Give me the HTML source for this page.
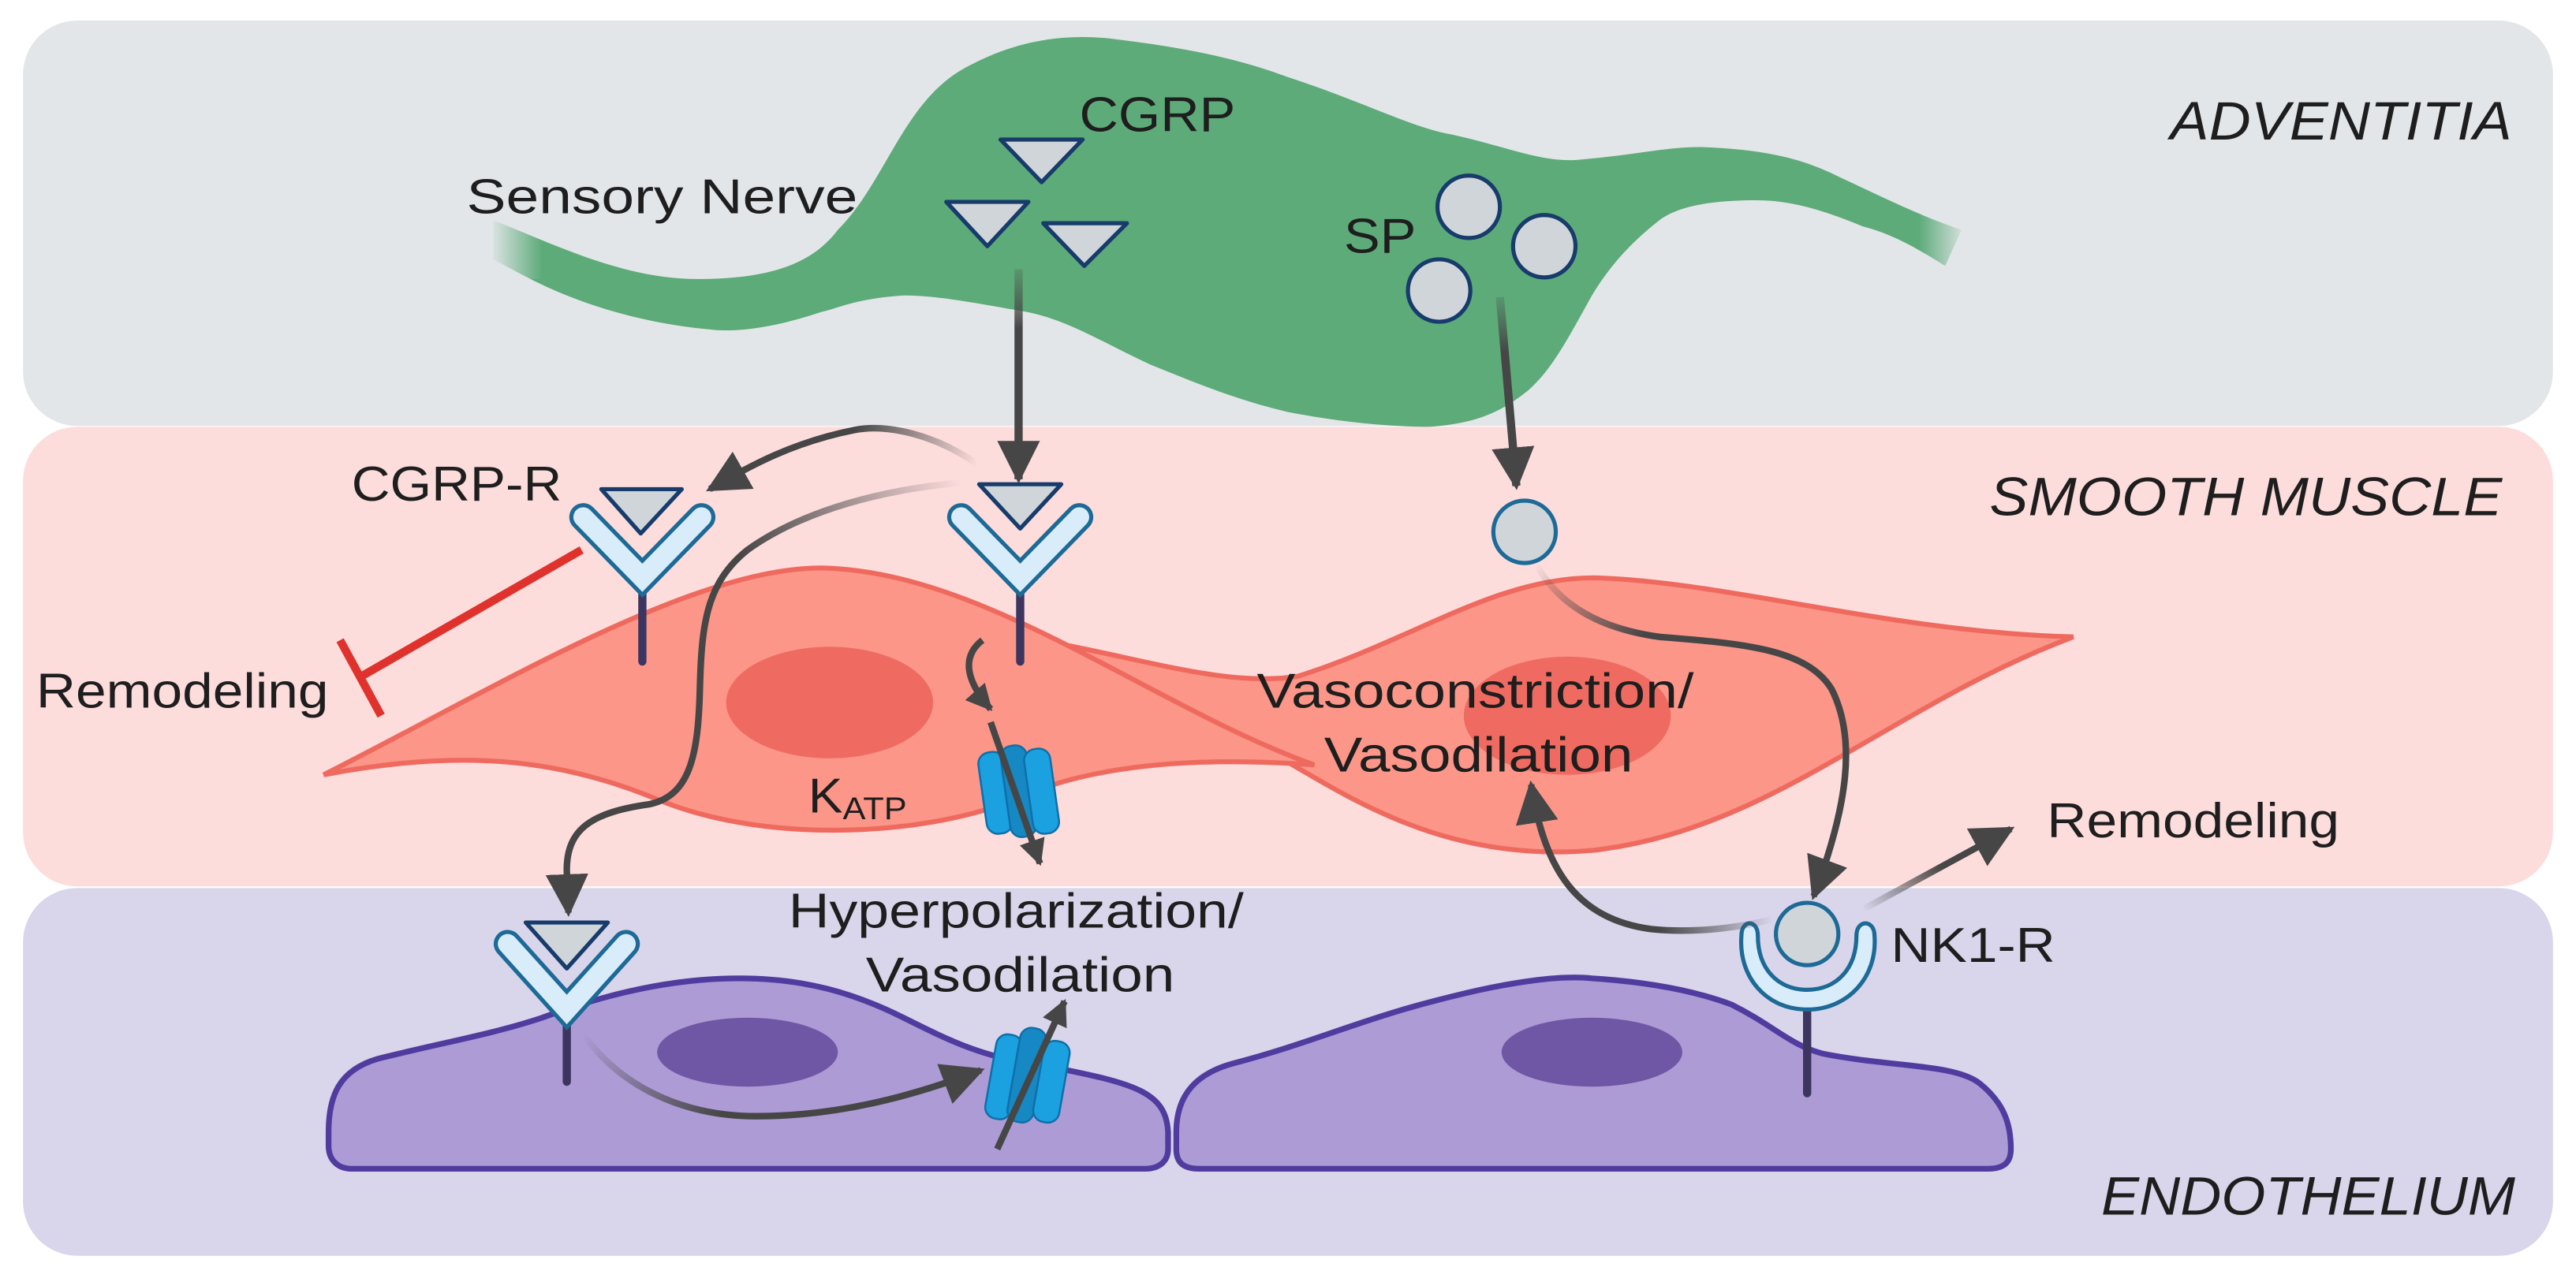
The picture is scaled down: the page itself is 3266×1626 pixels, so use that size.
<!DOCTYPE html>
<html><head><meta charset="utf-8"><style>
html,body{margin:0;padding:0;background:#fff;}
svg{display:block;}
text{font-family:"Liberation Sans",sans-serif;fill:#1e1e1e;}
</style></head><body>
<svg width="3266" height="1626" viewBox="0 0 1568 781" preserveAspectRatio="none" xmlns="http://www.w3.org/2000/svg">
<defs>
<marker id="ah" viewBox="0 0 10 10" refX="9" refY="5" markerUnits="userSpaceOnUse" markerWidth="26" markerHeight="26" orient="auto"><path d="M0,0 L10,5 L0,10 Z" fill="#464646"/></marker>
<marker id="ahs" viewBox="0 0 10 10" refX="9" refY="5" markerUnits="userSpaceOnUse" markerWidth="16" markerHeight="16" orient="auto"><path d="M0,0 L10,5 L0,10 Z" fill="#464646"/></marker>
<linearGradient id="g1" gradientUnits="userSpaceOnUse" x1="595" y1="283" x2="520" y2="262"><stop offset="0" stop-color="#464646" stop-opacity="0"/><stop offset="1" stop-color="#464646"/></linearGradient>
<linearGradient id="g2" gradientUnits="userSpaceOnUse" x1="585" y1="294" x2="450" y2="337"><stop offset="0" stop-color="#464646" stop-opacity="0"/><stop offset="1" stop-color="#464646"/></linearGradient>
<linearGradient id="g3" gradientUnits="userSpaceOnUse" x1="355" y1="630" x2="440" y2="678"><stop offset="0" stop-color="#464646" stop-opacity="0"/><stop offset="1" stop-color="#464646"/></linearGradient>
<linearGradient id="g4" gradientUnits="userSpaceOnUse" x1="935" y1="344" x2="1000" y2="388"><stop offset="0" stop-color="#464646" stop-opacity="0"/><stop offset="1" stop-color="#464646"/></linearGradient>
<linearGradient id="g5" gradientUnits="userSpaceOnUse" x1="1079" y1="560" x2="1010" y2="567"><stop offset="0" stop-color="#464646" stop-opacity="0"/><stop offset="1" stop-color="#464646"/></linearGradient>
<linearGradient id="g6" gradientUnits="userSpaceOnUse" x1="1134" y1="554" x2="1175" y2="520"><stop offset="0" stop-color="#464646" stop-opacity="0"/><stop offset="1" stop-color="#464646"/></linearGradient>
<linearGradient id="g7" gradientUnits="userSpaceOnUse" x1="620" y1="164" x2="620" y2="200"><stop offset="0" stop-color="#464646" stop-opacity="0.2"/><stop offset="1" stop-color="#464646"/></linearGradient>
<linearGradient id="g8" gradientUnits="userSpaceOnUse" x1="913" y1="181" x2="915" y2="215"><stop offset="0" stop-color="#464646" stop-opacity="0.2"/><stop offset="1" stop-color="#464646"/></linearGradient>
<linearGradient id="fl" gradientUnits="userSpaceOnUse" x1="298" y1="0" x2="330" y2="0"><stop offset="0" stop-color="#e3e6e9"/><stop offset="1" stop-color="#e3e6e9" stop-opacity="0"/></linearGradient>
<linearGradient id="fr" gradientUnits="userSpaceOnUse" x1="1168" y1="0" x2="1198" y2="0"><stop offset="0" stop-color="#e3e6e9" stop-opacity="0"/><stop offset="1" stop-color="#e3e6e9"/></linearGradient>
</defs>

<!-- panels -->
<rect x="14" y="12.5" width="1540" height="247" rx="33" fill="#e3e6e9"/>
<rect x="14" y="260" width="1540" height="280" rx="33" fill="#fddcdc"/>
<rect x="14" y="541" width="1540" height="224" rx="33" fill="#d9d5ea"/>

<!-- nerve -->
<path d="M300,134 C340,150 380,170 425,170 C470,170 495,160 510,140 C540,110 550,60 590,40 C620,24 650,20 680,24 C730,30 760,38 784,47 C830,62 860,78 884,82 C920,90 940,100 964,97 C1000,94 1020,88 1044,90 C1080,92 1100,98 1120,108 C1150,122 1170,132 1194,140 L1184,162 C1165,150 1150,142 1134,138 C1110,128 1090,122 1069,122 C1040,122 1020,126 1009,135 C990,150 978,165 969,180 C955,205 945,225 930,238 C915,250 900,258 870,260 C840,260 810,256 784,251 C750,243 725,232 700,222 C670,208 650,195 625,190 C590,184 570,180 550,180 C520,182 510,188 500,190 C470,200 450,202 435,201 C400,198 370,190 345,180 C325,172 312,164 300,158 Z" fill="#5dab79"/>
<rect x="296" y="125" width="36" height="45" fill="url(#fl)"/>
<rect x="1166" y="125" width="34" height="45" fill="url(#fr)"/>

<!-- CGRP triangles -->
<g fill="#d0d5d9" stroke="#173c6b" stroke-width="2.5" stroke-linejoin="round">
<path d="M609,85 L659,85 L634,111 Z"/>
<path d="M576,123 L626,123 L601,150 Z"/>
<path d="M635,136 L686,136 L660,162 Z"/>
</g>
<!-- SP circles -->
<g fill="#d0d5d9" stroke="#173c6b" stroke-width="2.5">
<circle cx="894" cy="126" r="19"/>
<circle cx="940" cy="150" r="19"/>
<circle cx="876" cy="177" r="19"/>
</g>
<path d="M620,164 L620,292" stroke="url(#g7)" stroke-width="5" fill="none" marker-end="url(#ah)"/>
<path d="M913,181 L923,296" stroke="url(#g8)" stroke-width="5" fill="none" marker-end="url(#ah)"/>

<!-- SM cells -->
<g fill="#fb9689" stroke="#ef6a5e" stroke-width="3">
<path d="M600,385 C680,395 740,420 790,412 C860,390 910,352 970,352 C1050,354 1150,385 1262,388 C1150,430 1080,505 970,518 C880,526 820,485 780,462 C720,430 650,400 600,385 Z"/>
<path d="M197,472 C300,420 420,346 500,346 C600,348 700,430 800,466 C720,460 660,468 620,486 C570,508 470,516 400,487 C340,462 280,456 197,472 Z"/>
</g>
<ellipse cx="505" cy="428" rx="63" ry="34" fill="#ef6b61"/>
<ellipse cx="954" cy="436" rx="63" ry="36" fill="#ef6b61"/>

<!-- endothelial cells -->
<g fill="#ad9bd5" stroke="#503c9e" stroke-width="3.5">
<path d="M200,690 C200,668 206,652 230,645 C270,635 300,630 330,620 C370,605 410,596 450,596 C490,596 520,605 550,620 C580,635 600,645 640,650 C690,660 710,665 711,690 L711,700 C711,708 705,712 697,712 L214,712 C205,712 200,706 200,698 Z"/>
<path d="M716,690 C716,670 725,655 750,648 C800,635 830,620 884,607 C920,598 950,594 969,596 C1000,598 1030,603 1054,612 C1080,625 1090,637 1110,642 C1150,650 1190,648 1205,660 C1220,672 1224,685 1224,700 C1224,708 1220,712 1210,712 L730,712 C720,712 716,708 716,700 Z"/>
</g>
<ellipse cx="455" cy="641" rx="55" ry="21" fill="#6f57a5"/>
<ellipse cx="969" cy="641" rx="55" ry="21" fill="#6f57a5"/>

<!-- SM channel -->
<g fill="#1ba0e0" stroke="#0f6fa8" stroke-width="1.2">
<rect x="598" y="458" width="16" height="50" rx="7" transform="rotate(-8 606 483)"/>
<rect x="612" y="454" width="16" height="56" rx="7" transform="rotate(-8 620 482)" fill="#1688c4"/>
<rect x="626" y="456" width="16" height="52" rx="7" transform="rotate(-8 634 482)"/>
</g>
<!-- endo channel -->
<g fill="#1ba0e0" stroke="#0f6fa8" stroke-width="1.2">
<rect x="603" y="630" width="16" height="52" rx="7" transform="rotate(10 611 656)"/>
<rect x="617" y="626" width="16" height="58" rx="7" transform="rotate(10 625 655)" fill="#1688c4"/>
<rect x="632" y="634" width="16" height="50" rx="7" transform="rotate(10 640 659)"/>
</g>

<!-- receptors stems -->
<g stroke="#3c3560" stroke-width="5" stroke-linecap="round">
<line x1="391" y1="355" x2="391" y2="403"/>
<line x1="621" y1="354" x2="621" y2="403"/>
<line x1="345" y1="619" x2="345" y2="659"/>
<line x1="1100" y1="613" x2="1100" y2="666"/>
</g>
<g fill="none" stroke-linecap="round" stroke-linejoin="miter">
<path d="M355,315 L391,352 L427,315" stroke="#1d6a97" stroke-width="17"/>
<path d="M355,315 L391,352 L427,315" stroke="#d8ecf9" stroke-width="12"/>
<path d="M585,315 L621,352 L657,315" stroke="#1d6a97" stroke-width="17"/>
<path d="M585,315 L621,352 L657,315" stroke="#d8ecf9" stroke-width="12"/>
<path d="M309,575 L345,615 L381,575" stroke="#1d6a97" stroke-width="17"/>
<path d="M309,575 L345,615 L381,575" stroke="#d8ecf9" stroke-width="12"/>
</g>
<g fill="#d0d5d9" stroke="#173c6b" stroke-width="2.5" stroke-linejoin="round">
<path d="M366,298 L415,298 L390,325 Z"/>
<path d="M596,295 L646,295 L621,322 Z"/>
<path d="M320,562 L370,562 L345,590 Z"/>
</g>
<circle cx="928" cy="324" r="19" fill="#d0d5d9" stroke="#1d6a97" stroke-width="2.5"/>

<!-- NK1-R cup -->
<path d="M1060,570 C1058,595 1075,615 1100,615 C1125,615 1143,595 1141,570 C1141,560 1130,560 1130,570 C1130,590 1118,603 1100,603 C1082,603 1070,590 1070,570 C1070,560 1060,560 1060,570 Z" fill="#d8ecf9" stroke="#1d6a97" stroke-width="2.5"/>
<circle cx="1100" cy="569" r="19" fill="#d0d5d9" stroke="#1d6a97" stroke-width="2.5"/>

<!-- inhibitor -->
<line x1="354" y1="335" x2="220" y2="412" stroke="#e0322c" stroke-width="5"/>
<line x1="207" y1="390" x2="232" y2="436" stroke="#e0322c" stroke-width="5"/>

<!-- arrows -->
<g fill="none" stroke-width="4">
<path d="M595,283 C570,265 540,258 520,262 C480,270 455,285 432,298" stroke="url(#g1)" marker-end="url(#ah)"/>
<path d="M585,294 C540,298 490,310 455,335 C430,355 427,380 426,420 C425,460 420,485 395,490 C360,495 345,505 345,530 L346,556" stroke="url(#g2)" marker-end="url(#ah)"/>
<path d="M598,390 C585,400 588,415 603,432" stroke="#464646" marker-end="url(#ahs)"/>
<path d="M603,440 L633,526" stroke="#464646" marker-end="url(#ahs)"/>
<path d="M355,630 C380,665 420,680 460,680 C510,680 555,668 597,652" stroke="url(#g3)" marker-end="url(#ah)"/>
<path d="M607,700 L648,610" stroke="#464646" marker-end="url(#ahs)"/>
<path d="M935,344 C950,370 975,383 1010,388 C1060,392 1100,395 1115,420 C1130,450 1125,490 1104,546" stroke="url(#g4)" marker-end="url(#ah)"/>
<path d="M1079,560 C1050,567 1025,568 1005,566 C960,560 940,530 932,478" stroke="url(#g5)" marker-end="url(#ah)"/>
<path d="M1134,554 L1224,505" stroke="url(#g6)" marker-end="url(#ah)"/>
</g>

<!-- text -->
<g font-size="30">
<text x="284" y="130" textLength="238" lengthAdjust="spacingAndGlyphs">Sensory Nerve</text>
<text x="657" y="80" textLength="95" lengthAdjust="spacingAndGlyphs">CGRP</text>
<text x="818" y="154" textLength="44" lengthAdjust="spacingAndGlyphs">SP</text>
<text x="214" y="305" textLength="128" lengthAdjust="spacingAndGlyphs">CGRP-R</text>
<text x="22" y="431" textLength="178" lengthAdjust="spacingAndGlyphs">Remodeling</text>
<text x="492" y="495" textLength="21" lengthAdjust="spacingAndGlyphs">K</text>
<text x="513" y="499" font-size="19" textLength="39" lengthAdjust="spacingAndGlyphs">ATP</text>
<text x="480" y="565" textLength="277" lengthAdjust="spacingAndGlyphs">Hyperpolarization/</text>
<text x="527" y="604" textLength="188" lengthAdjust="spacingAndGlyphs">Vasodilation</text>
<text x="765" y="431" textLength="266" lengthAdjust="spacingAndGlyphs">Vasoconstriction/</text>
<text x="806" y="470" textLength="188" lengthAdjust="spacingAndGlyphs">Vasodilation</text>
<text x="1246" y="510" textLength="178" lengthAdjust="spacingAndGlyphs">Remodeling</text>
<text x="1151" y="586" textLength="100" lengthAdjust="spacingAndGlyphs">NK1-R</text>
</g>
<g font-size="33" font-style="italic">
<text x="1321" y="85" textLength="208" lengthAdjust="spacingAndGlyphs">ADVENTITIA</text>
<text x="1211" y="314" textLength="312" lengthAdjust="spacingAndGlyphs">SMOOTH MUSCLE</text>
<text x="1279" y="740" textLength="252" lengthAdjust="spacingAndGlyphs">ENDOTHELIUM</text>
</g>
</svg>
</body></html>
